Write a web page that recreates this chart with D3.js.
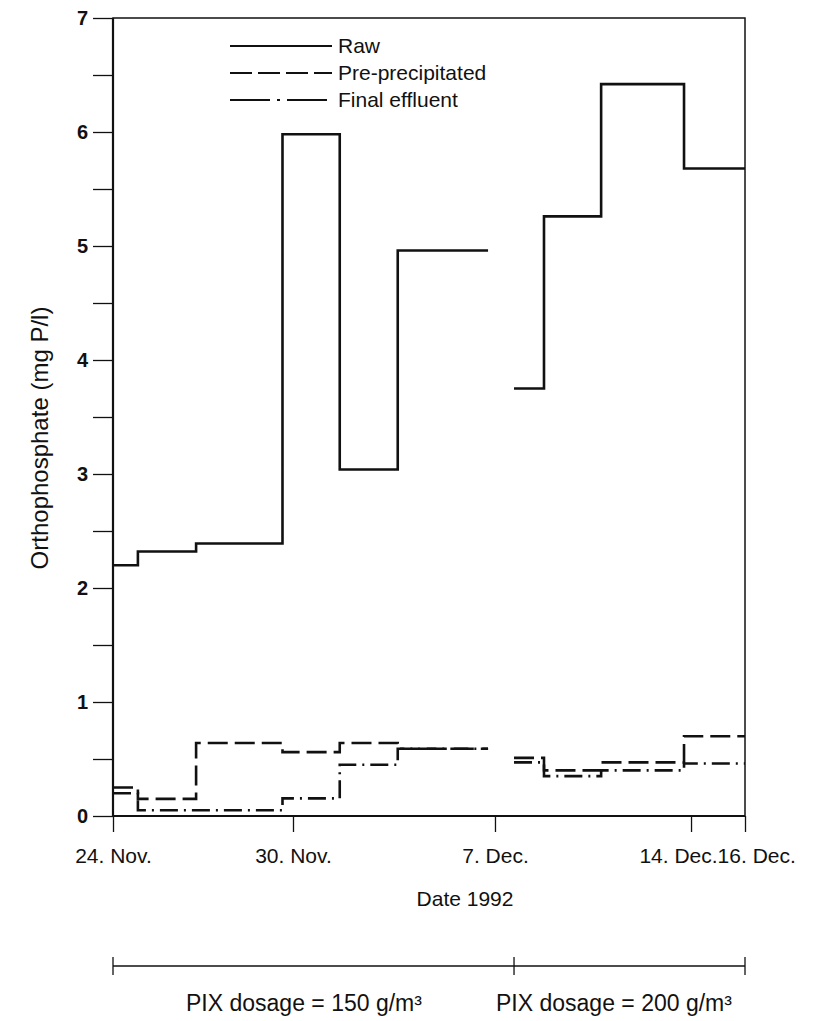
<!DOCTYPE html>
<html><head><meta charset="utf-8">
<script src="https://cdn.jsdelivr.net/npm/d3@7"></script>
<style>body{margin:0;background:#fff}svg{display:block}</style>
</head><body><svg id="c" width="838" height="1021"></svg>
<script>
// x values are day offsets from 24 Nov 1992
const tickDays = [0, 6, 13, 20, 22];
const tickLabels = ["24. Nov.", "30. Nov.", "7. Dec.", "14. Dec.", "16. Dec."];
const yTicks = [0, 1, 2, 3, 4, 5, 6, 7];
const yMinorTicks = [0.5, 1.5, 2.5, 3.5, 4.5, 5.5, 6.5];
const run1Days = [0, 0.83, 2.77, 5.65, 7.62, 9.63, 12.76];
const run2Days = [13.68, 14.75, 16.79, 19.75, 22];
const raw1 = [2.20, 2.32, 2.39, 5.98, 3.04, 4.96];
const raw2 = [3.75, 5.26, 6.42, 5.68];
const pre1 = [0.25, 0.15, 0.64, 0.56, 0.64, 0.59];
const pre2 = [0.51, 0.40, 0.47, 0.70];
const eff1 = [0.20, 0.05, 0.05, 0.155, 0.45, 0.59];
const eff2 = [0.47, 0.35, 0.40, 0.46];
const seriesNames = ["Raw", "Pre-precipitated", "Final effluent"];
const dosageDays = [0, 13.68, 22];
const dosageLabels = ["PIX dosage = 150 g/m³", "PIX dosage = 200 g/m³"];

const svg = d3.select("#c");
const font = "'Liberation Sans', Arial, sans-serif";
const m = {l: 113, r: 745, t: 18, b: 816};
const W = m.r - m.l;
const x = d3.scaleLinear().domain(tickDays)
  .range([0, 0.2848, 0.6044, 0.9146, 1].map(f => m.l + f * W));
const y = d3.scaleLinear().domain([0, 7]).range([m.b, m.t]);

const styles = [
  {dash: null},
  {dash: "20,7"},
  {dash: "18,6,2,6"}
];

// frame
svg.append("rect").attr("x", m.l).attr("y", m.t).attr("width", W).attr("height", m.b - m.t)
  .attr("fill", "none").attr("stroke", "#111").attr("stroke-width", 1.5);
svg.append("line").attr("x1", m.l).attr("x2", m.l).attr("y1", m.t).attr("y2", m.b)
  .attr("stroke", "#111").attr("stroke-width", 2.2);
svg.append("line").attr("x1", m.l).attr("x2", m.r).attr("y1", m.b).attr("y2", m.b)
  .attr("stroke", "#111").attr("stroke-width", 2.2);

// y axis
const yAxis = d3.axisLeft(y).tickValues(yTicks.concat(yMinorTicks)).tickSize(20).tickPadding(5)
  .tickFormat(d => Number.isInteger(d) ? d : "");
const gy = svg.append("g").attr("transform", `translate(${m.l},0)`).call(yAxis);
gy.select(".domain").remove();
gy.selectAll(".tick line").attr("stroke", "#111").attr("stroke-width", 1.3);
gy.selectAll(".tick text").attr("font-family", font).attr("font-size", 20).attr("font-weight", "bold").attr("fill", "#111");

// x axis
const xAxis = d3.axisBottom(x).tickValues(tickDays).tickSize(16).tickPadding(16)
  .tickFormat((d, i) => tickLabels[i]);
const gx = svg.append("g").attr("transform", `translate(0,${m.b})`).call(xAxis);
gx.select(".domain").remove();
gx.selectAll(".tick line").attr("stroke", "#111").attr("stroke-width", 1.3);
const xt = gx.selectAll(".tick text").attr("font-family", font).attr("font-size", 21).attr("fill", "#111");
// last two labels sit side by side ("14. Dec.16. Dec.")
const tNodes = xt.nodes();
const t14 = d3.select(tNodes[3]), t16 = d3.select(tNodes[4]);
const w14 = tNodes[3].getComputedTextLength();
t14.attr("text-anchor", "end").attr("x", x(20) - x(20) + (678 - x(20)) + w14 / 2);
t16.attr("text-anchor", "start").attr("x", (678 + w14 / 2) - x(22));

// titles
svg.append("text").attr("x", 465).attr("y", 906).attr("text-anchor", "middle")
  .attr("font-family", font).attr("font-size", 21).attr("fill", "#111").text("Date 1992");
svg.append("text").attr("transform", "translate(48,438) rotate(-90)").attr("text-anchor", "middle")
  .attr("font-family", font).attr("font-size", 24).attr("fill", "#111").text("Orthophosphate (mg P/l)");

// series
const line = d3.line().x(d => x(d[0])).y(d => y(d[1])).curve(d3.curveStepAfter);
function pts(days, vals) {
  return days.map((d, i) => [d, vals[Math.min(i, vals.length - 1)]]);
}
const series = [[raw1, raw2], [pre1, pre2], [eff1, eff2]];
series.forEach((runs, si) => {
  [[run1Days, runs[0]], [run2Days, runs[1]]].forEach(([days, vals]) => {
    svg.append("path").attr("d", line(pts(days, vals)))
      .attr("fill", "none").attr("stroke", "#111").attr("stroke-width", 2.6)
      .attr("stroke-dasharray", styles[si].dash);
  });
});

// legend
seriesNames.forEach((name, i) => {
  const ly = 46 + i * 27;
  svg.append("line").attr("x1", 230).attr("x2", 332).attr("y1", ly).attr("y2", ly)
    .attr("stroke", "#111").attr("stroke-width", 2).attr("stroke-dasharray", i === 1 ? "22,6" : i === 2 ? "40,7,3,7" : null);
  svg.append("text").attr("x", 338).attr("y", ly + 7).attr("font-family", font).attr("font-size", 21)
    .attr("fill", "#111").text(name);
});

// dosage bar
const dy = 966;
svg.append("line").attr("x1", x(dosageDays[0])).attr("x2", x(dosageDays[2])).attr("y1", dy).attr("y2", dy)
  .attr("stroke", "#111").attr("stroke-width", 1.3);
dosageDays.forEach(d => {
  svg.append("line").attr("x1", x(d)).attr("x2", x(d)).attr("y1", dy - 9).attr("y2", dy + 9)
    .attr("stroke", "#111").attr("stroke-width", 1.3);
});
[186, 496].forEach((lx, i) => {
  svg.append("text").attr("x", lx).attr("y", 1011).attr("font-family", font).attr("font-size", 23)
    .attr("fill", "#111").text(dosageLabels[i]);
});
</script></body></html>
